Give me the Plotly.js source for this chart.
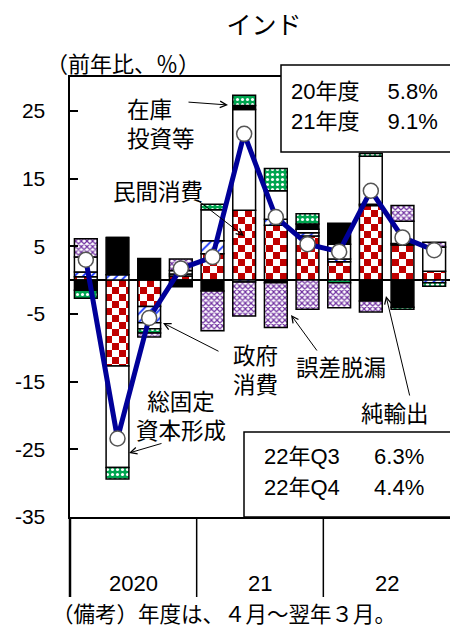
<!DOCTYPE html>
<html><head><meta charset="utf-8">
<script src="https://cdn.plot.ly/plotly-3.0.1.min.js"></script>
<style>html,body{margin:0;padding:0;background:#fff;} #chart{width:450px;height:629px;}</style>
</head><body><div id="chart"></div>
<script>
// ---- data ----
const categories = ["2020Q1","2020Q2","2020Q3","2020Q4","2021Q1","2021Q2","2021Q3","2021Q4","2022Q1","2022Q2","2022Q3","2022Q4"];
const yearLabels = ["2020","21","22"];
const privateCons = [0.5, -12.7, -3.9, 0.6, 3.9, 10.3, 8.1, 6.5, 2.7, 11.0, 5.2, 1.3];
const govCons     = [0.7, 0.8, -2.4, 0.3, 1.9, -0.3, 0.9, 0.5, 0.4, 0.2, 0.2, -0.4];
const gfcf        = [2.2, -15.0, -0.9, 0.5, 4.6, 14.9, 4.2, 0.5, 2.2, 7.1, 3.3, 3.6];
const netExports  = [-1.5, 5.5, 3.2, -1.0, -1.6, 0.6, -0.4, 0.8, 3.1, -3.1, -4.0, 0];
const inventories = [-1.2, -1.7, -0.6, 0, 0.8, 1.5, 3.3, 1.5, -0.4, 0.4, -0.3, -0.5];
const discrepancy = [2.7, 0, -0.6, 1.7, -5.9, -5.0, -6.6, -4.3, -3.7, -1.6, 2.3, 0.7];
const gdp         = [3.0, -23.4, -5.6, 1.7, 3.4, 21.6, 9.3, 5.3, 4.2, 13.2, 6.3, 4.4];
const tickValues  = [25, 15, 5, -5, -15, -25, -35];
const tickLabels  = ["25", "15", "5", "-5", "-15", "-25", "-35"];
const fyLines = ["20年度　\u00a05.8%", "21年度　\u00a09.1%"];
const qLines  = ["22年Q3　\u00a0\u00a06.3%", "22年Q4　\u00a0\u00a04.4%"];

// ---- layout helpers ----
const L = 70, R = 450, T = 77, B = 517;
const px = x => (x - L) / (R - L);
const py = y => (B - y) / (B - T);
const JP = "Noto Sans CJK JP";
const MIX = "Liberation Sans, Arial, Noto Sans CJK JP";
const FS = 22.5;

function bar(name, y, marker) {
  return {type: 'bar', name: name, x: categories, y: y, hoverinfo: 'skip',
    marker: Object.assign({line: {color: '#000', width: 1.5}}, marker)};
}
const traces = [
  bar('民間消費', privateCons, {color: '#c00000'}),
  bar('政府消費', govCons, {color: '#fff', pattern: {shape: '/', fgcolor: '#1030ff', bgcolor: '#fff', size: 6, solidity: 0.3}}),
  bar('総固定資本形成', gfcf, {color: '#fff'}),
  bar('純輸出', netExports, {color: '#000'}),
  bar('在庫投資等', inventories, {color: '#00a550', pattern: {shape: '.', fgcolor: '#fff', bgcolor: '#00a550', size: 5, solidity: 0.3}}),
  bar('誤差脱漏', discrepancy, {color: '#fff', pattern: {shape: 'x', fgcolor: '#7030a0', bgcolor: '#fff', size: 4, solidity: 0.5}}),
  {type: 'scatter', mode: 'lines+markers', name: 'GDP', x: categories, y: gdp, hoverinfo: 'skip',
   line: {color: '#000099', width: 5},
   marker: {symbol: 'circle', size: 15, color: '#fff', line: {color: '#555', width: 1.5}}}
];

const n = categories.length;
const shapes = [];
// year dividers below axis
[0, 4, 8].forEach(k => shapes.push({type: 'line', xref: 'paper', yref: 'paper', x0: k / n, x1: k / n, y0: 0, y1: py(597), line: {color: '#000', width: k === 0 ? 2.5 : 1.5}}));
// text boxes
shapes.push({type: 'rect', xref: 'paper', yref: 'paper', x0: px(281), x1: px(460), y0: py(152), y1: py(65), fillcolor: '#fff', line: {color: '#000', width: 1.5}, layer: 'above'});
shapes.push({type: 'rect', xref: 'paper', yref: 'paper', x0: px(244), x1: px(460), y0: 0, y1: py(432), fillcolor: '#fff', line: {color: '#000', width: 1.5}, layer: 'above'});

const annotations = [];
function txt(t, x, y, xanchor, size, family) {
  annotations.push({xref: 'paper', yref: 'paper', x: px(x), y: py(y), text: t, showarrow: false,
    xanchor: xanchor || 'left', yanchor: 'middle', align: xanchor || 'left',
    font: {family: family || JP, size: size || FS, color: '#000'}});
}
function arrow(x0, y0, x1, y1) {
  annotations.push({xref: 'paper', yref: 'paper', x: px(x1), y: py(y1), ax: x0 - x1, ay: y0 - y1, axref: 'pixel', ayref: 'pixel',
    text: '', showarrow: true, arrowhead: 5, arrowsize: 1.3, arrowwidth: 1, arrowcolor: '#000', standoff: 0, startstandoff: 0});
}
txt('（前年比、％）', 44, 62, 'left', 22);
txt('在庫<br>投資等', 125, 122);
txt('民間消費', 111, 190);
txt('政府<br>消費', 231, 368);
txt('総固定<br>資本形成', 181, 414, 'center');
txt('誤差脱漏', 294, 366);
txt('純輸出', 359, 412);
arrow(187, 102, 228, 105);
arrow(196, 199, 244, 236);
arrow(220, 352, 163, 323);
arrow(318, 352, 291, 315);
arrow(163, 443, 129, 453);
arrow(410, 397, 386, 296);
txt(fyLines[0], 289, 91, 'left', 22, MIX);
txt(fyLines[1], 289, 121, 'left', 22, MIX);
txt(qLines[0], 262, 456, 'left', 22, MIX);
txt(qLines[1], 262, 487, 'left', 22, MIX);
yearLabels.forEach((t, i) => annotations.push({xref: 'paper', yref: 'paper', x: (4 * i + 2) / n, y: py(583), text: t, showarrow: false,
  xanchor: 'center', yanchor: 'middle', font: {family: 'Liberation Sans', size: 22, color: '#000'}}));
txt('（備考）年度は、４月～翌年３月。', 50, 612, 'left', 21.5);

const layout = {
  width: 450, height: 629,
  margin: {l: L, r: 450 - R, t: T, b: 629 - B, pad: 0},
  paper_bgcolor: '#fff', plot_bgcolor: '#fff',
  showlegend: false, barmode: 'relative', bargap: 0.28,
  title: {text: 'インド', font: {family: JP, size: 25, color: '#000'}, xref: 'container', yref: 'container', x: 264 / 450, y: 1 - 25 / 629, xanchor: 'center', yanchor: 'middle'},
  xaxis: {type: 'category', range: [-0.5, n - 0.5], showticklabels: false, ticks: '', showline: true, mirror: true,
    linecolor: '#000', linewidth: 2, showgrid: false, zeroline: false, fixedrange: true},
  yaxis: {range: [-35, 30], tickmode: 'array', tickvals: tickValues, ticktext: tickLabels, ticks: 'inside', ticklen: 8, tickwidth: 2,
    tickcolor: '#000', showline: true, linewidth: 2.5, linecolor: '#000', showgrid: false, zeroline: true,
    zerolinecolor: '#000', zerolinewidth: 1.5, ticklabelstandoff: 18,
    tickfont: {family: 'Liberation Sans', size: 21, color: '#000'}},
  shapes: shapes, annotations: annotations
};

function applyChecker() {
  const gd = document.getElementById('chart');
  const svg = gd.querySelector('svg.main-svg');
  if (!svg) return;
  const ns = 'http://www.w3.org/2000/svg';
  if (!document.getElementById('chk')) {
    let defs = svg.querySelector('defs');
    if (!defs) { defs = document.createElementNS(ns, 'defs'); svg.insertBefore(defs, svg.firstChild); }
    const pat = document.createElementNS(ns, 'pattern');
    pat.setAttribute('id', 'chk'); pat.setAttribute('patternUnits', 'userSpaceOnUse');
    pat.setAttribute('width', '14'); pat.setAttribute('height', '14');
    [[0, 0, 14, 14, '#fff'], [0, 0, 7, 7, '#c00000'], [7, 7, 7, 7, '#c00000']].forEach(r => {
      const e = document.createElementNS(ns, 'rect');
      e.setAttribute('x', r[0]); e.setAttribute('y', r[1]); e.setAttribute('width', r[2]); e.setAttribute('height', r[3]);
      e.setAttribute('fill', r[4]); pat.appendChild(e);
    });
    defs.appendChild(pat);
  }
  const tr = gd.querySelectorAll('.barlayer .trace.bars');
  if (tr.length) tr[0].querySelectorAll('path').forEach(p => p.style.fill = 'url(#chk)');
}

Plotly.newPlot('chart', traces, layout, {displayModeBar: false, staticPlot: true}).then(applyChecker);
applyChecker();
</script></body></html>
